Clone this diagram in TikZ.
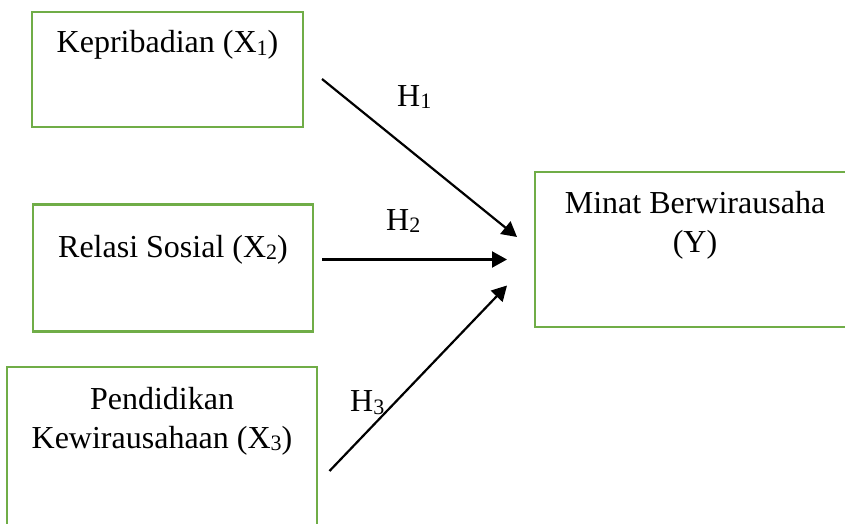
\documentclass[tikz,border=0pt]{standalone}
\usepackage{fontspec}
\setmainfont{Liberation Serif}
\usetikzlibrary{arrows.meta}
\definecolor{boxgreen}{HTML}{70AD47}
\newcommand\subidx[1]{\raisebox{-2.5pt}{\fontsize{22}{22}\selectfont #1}}
\tikzset{
  varbox/.style={draw=boxgreen, line width=2.6pt, rectangle, inner sep=0pt},
  lbl/.style={anchor=base, inner sep=0pt, font=\fontsize{32}{39}\selectfont, align=center},
  hyp/.style={anchor=base west, inner sep=0pt, font=\fontsize{32}{39}\selectfont},
  arr/.style={line width=2.2pt, -{Triangle[length=15pt,width=16pt]}}
}
\begin{document}
\begin{tikzpicture}[x=1pt,y=-1pt]
  \useasboundingbox (0,0) rectangle (845,524);
  \clip (0,0) rectangle (845,524);
  % variable boxes
  \node[varbox, minimum width=271, minimum height=115] (x1) at (167.5,69.5) {};
  \node[varbox, minimum width=280, minimum height=127] (x2) at (173,268) {};
  \node[varbox, minimum width=310, minimum height=180] (x3) at (162,457) {};
  \node[varbox, minimum width=320, minimum height=155] (y)  at (695,249.5) {};
  % box texts
  \node[lbl] (t1) at (167.5,53) {Kepribadian (X\subidx{1})};
  \node[lbl] (t2) at (173,257) {Relasi Sosial (X\subidx{2})};
  \node[lbl] (t3a) at (162,409) {Pendidikan};
  \node[lbl] (t3b) at (162,448) {Kewirausahaan (X\subidx{3})};
  \node[lbl] (ty1) at (695,213) {Minat Berwirausaha};
  \node[lbl] (ty2) at (695,252) {(Y)};
  % arrow end points
  \coordinate (s1) at (322,79);
  \coordinate (e1) at (517,237);
  \coordinate (s2) at (322,259.5);
  \coordinate (e2) at (507,259.5);
  \coordinate (s3) at (329.5,471);
  \coordinate (e3) at (507,285.5);
  \draw[arr] (s1) -- (e1);
  \draw[arr] (s2) -- (e2);
  \draw[arr] (s3) -- (e3);
  % hypothesis labels
  \node[hyp] (h1) at (397,106.5) {H\subidx{1}};
  \node[hyp] (h2) at (386,230) {H\subidx{2}};
  \node[hyp] (h3) at (350,411.5) {H\subidx{3}};
\end{tikzpicture}
\end{document}
